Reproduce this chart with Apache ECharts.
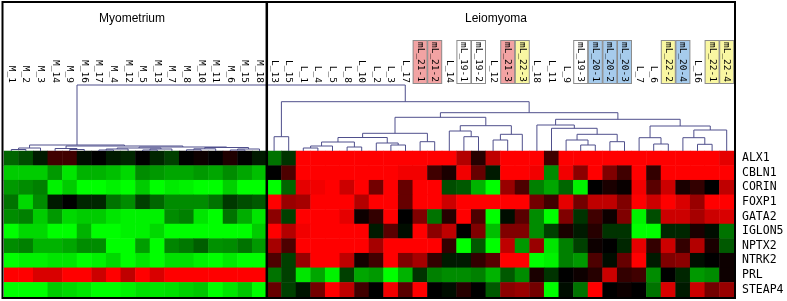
<!DOCTYPE html>
<html><head><meta charset="utf-8">
<script src="https://cdn.jsdelivr.net/npm/echarts@6/dist/echarts.min.js"></script>
<style>html,body{margin:0;padding:0;background:#fff}#c{width:787px;height:301px}</style>
</head><body><div id="c"></div>
<script>
// ---- categories ----
const samples = ['M_1','M_2','M_3','M_14','M_9','M_16','M_17','M_4','M_12','M_5','M_13','M_7','M_8','M_10','M_11','M_6','M_15','M_18',
 'L_13','L_15','L_1','L_4','L_5','L_8','L_10','L_2','L_3','L_17','mL_21-1','mL_21-2','L_14','mL_19-1','mL_19-2','L_12','mL_21-3','mL_22-3',
 'L_18','L_11','L_9','mL_19-3','mL_20-1','mL_20-2','mL_20-3','L_7','L_6','mL_22-2','mL_20-4','L_16','mL_22-1','mL_22-4'];
const genes = ['ALX1','CBLN1','CORIN','FOXP1','GATA2','IGLON5','NPTX2','NTRK2','PRL','STEAP4'];
const groupTitles = ['Myometrium','Leiomyoma'];

// ---- expression values (per gene, one value per sample; -1 green .. 0 black .. +1 red) ----
const ALX1 = [-0.4,-0.3,-0.1,0.25,0.25,-0.05,0,-0.1,-0.15,0,-0.15,-0.25,0,0.05,0,0.12,0,-0.1,
 -0.45,-0.2,1,1,1,1,1,1,1,1,1,1,1,0.7,0.15,0.75,1,1,1,0.25,1,1,1,1,1,1,1,1,1,1,1,0.9];
const CBLN1 = [-0.8,-0.8,-0.8,-0.6,-0.9,-0.7,-0.7,-0.75,-0.85,-0.55,-0.6,-0.65,-0.65,-0.6,-0.65,-0.55,-0.65,-0.75,
 0,0.3,1,1,1,1,1,1,1,0.95,0.95,0.25,0.1,0.95,0.4,-0.1,1,1,0.95,-0.55,0.95,0.55,1,0.5,0.25,1,0.2,1,1,1,1,1];
const CORIN = [-0.6,-0.55,-0.5,-0.95,-0.8,-1,-1,-0.95,-1,-0.8,-1,-0.92,-0.95,-1,-1,-0.82,-1,-1,
 -1,-0.4,0.9,0.95,1,0.8,1,0.45,1,0.4,1,1,-0.3,-0.35,-0.7,-1,0.6,0.3,-0.5,-0.65,-0.4,-0.95,0,0.1,0.03,0.95,0.35,0.8,0.1,0.2,0,0.75];
const FOXP1 = [-0.45,-0.85,-0.55,-0.1,0,-0.15,-0.15,-0.45,-0.55,-0.25,-0.4,-0.55,-0.55,-0.55,-0.45,-0.22,-0.3,-0.35,
 1,0.6,0.65,1,1,1,0.7,1,1,0.4,1,1,0.8,1,1,1,1,1,0.45,0.25,0.9,0.45,0.75,0.75,0.5,1,0.8,1,0.85,0.6,1,1];
const GATA2 = [-0.55,-0.5,-0.8,-0.6,-0.85,-0.8,-0.8,-0.9,-0.95,-0.95,-0.95,-0.55,-0.5,-0.9,-1,-0.45,-0.68,-0.9,
 0.55,-0.25,1,1,1,0.9,0.05,0.2,1,0,0.5,-0.45,0.15,1,0.3,-1,-0.05,0.35,-0.55,-1,0.5,-0.2,0.25,0.05,0.5,-0.95,-0.3,0.8,0.8,0.65,0.8,0.85];
const IGLON5 = [-1,-0.85,-0.85,-1,-1,-0.7,-1,-1,-0.95,-0.95,-0.85,-1,-1,-1,-1,-1,-1,-0.8,
 1,0.7,0.95,1,1,1,1,-0.1,0.35,-0.05,1,0.55,0.75,0,0.5,-0.75,0.5,0.5,-0.55,-0.25,0.1,-0.1,0.15,-0.2,-0.2,-1,-1,-0.15,-0.15,0.1,-0.05,-0.45];
const NPTX2 = [-0.55,-0.5,-0.7,-0.7,-0.65,-0.55,-0.55,-1,-1,-0.62,-1,-0.52,-0.47,-0.37,-0.57,-0.55,-0.45,-0.6,
 0.65,0.3,1,1,1,1,1,0.65,1,1,1,1,0.2,-1,-0.35,-1,0.75,-0.6,0.6,-0.9,-0.5,-0.25,0.05,0,-0.15,0.9,0.2,0.8,0.2,0.7,0.1,-0.35];
const NTRK2 = [-1,-0.95,-0.95,-0.9,-0.9,-1,-0.95,-0.85,-1,-0.9,-1,-0.88,-0.88,-0.95,-1,-0.92,-1,-1,
 0.3,-0.25,0.6,1,1,0.75,0.08,0.25,1,0.5,0.65,0.2,-0.1,-0.1,0.2,0.35,1,1,-1,-0.95,-0.5,-0.6,0.3,-0.05,0.4,1,-0.1,0.5,0.55,-0.05,0,0.05];
const PRL = [1,1,0.85,0.85,1,1,0.8,1,0.75,1,0.85,1,1,1,1,1,1,1,
 -0.45,-0.25,-0.9,-0.65,-0.95,-0.25,-0.65,-0.6,-1,-0.7,-0.2,-0.5,-0.55,-0.55,-0.5,-0.7,-0.35,-0.55,0.1,-0.2,0,0.05,0.15,0.8,0.2,0.25,-0.55,0,-0.15,-0.6,-0.55,0.05];
const STEAP4 = [-1,-1,-1,-0.8,-0.85,-0.9,-1,-1,-0.95,-0.88,-0.9,-0.88,-0.82,-0.78,-1,-0.9,-0.78,-1,
 0.4,-0.25,-0.08,0.45,1,0.75,0.25,0,0.95,0.35,1,0,-0.05,0.15,0,-0.35,0.55,0.6,0.45,-1,-0.05,-0.45,1,0,0.05,0,-0.45,0.85,-0.1,0.8,0.45,0.6];

// ---- dendrogram linkage (leaf index < 50, merged node = 50 + merge number) ----
const linkA = [0,50,4,3,6,54,9,56,55,12,59,15,61,60,58,53,51,
 18,20,68,23,69,26,25,71,28,74,31,30,33,79,78,76,39,38,41,84,37,36,44,43,47,46,92,90,88,82,67,66];
const linkB = [1,2,5,52,7,8,10,11,57,13,14,16,17,62,63,64,65,
 19,21,22,24,70,27,72,73,29,75,32,77,34,35,80,81,40,83,42,85,86,87,45,89,48,91,49,93,94,95,96,97];
const linkH = [1.5,3,1.5,2.5,1,2,1,2,3,1.2,2.2,1,2,3.5,4,5,6,
 14.3,3,5,4,9,6,8,13.5,9.3,17.7,14.3,20,11,16.7,25.3,33.7,6,11,9.3,16.7,22.7,26,7,13.3,6.7,13.3,21,25,31.7,38.3,49.3,66];

// ---- build library data ----
const exprRows = [ALX1, CBLN1, CORIN, FOXP1, GATA2, IGLON5, NPTX2, NTRK2, PRL, STEAP4];
const heatData = [];
exprRows.forEach((row, r) => row.forEach((v, c) => heatData.push([c, r, v])));

const N = samples.length;
const nodeX = [], nodeH = [];
for (let i = 0; i < N; i++) { nodeX[i] = i; nodeH[i] = 0; }
const dendData = [];
for (let k = 0; k < linkA.length; k++) {
  const a = linkA[k], b = linkB[k], h = linkH[k];
  dendData.push([nodeX[a], nodeH[a], nodeX[b], nodeH[b], h]);
  nodeX[N + k] = (nodeX[a] + nodeX[b]) / 2;
  nodeH[N + k] = h;
}

const labelFont = 'DejaVu Sans Mono';
function boxStyle(bg) {
  return { fontFamily: labelFont, fontSize: 9.5, color: '#000', backgroundColor: bg,
    borderColor: '#8c8c8c', borderWidth: 1, width: 40, height: 11, padding: [1, 1, 1, 1] };
}
function groupOf(name) {
  if (name.indexOf('mL_21') === 0) return 'p';
  if (name.indexOf('mL_22') === 0) return 'y';
  if (name.indexOf('mL_20') === 0) return 'b';
  if (name.indexOf('mL_19') === 0) return 'w';
  return 'n';
}

const chart = echarts.init(document.getElementById('c'), null, { renderer: 'canvas' });
const option = {
  animation: false,
  backgroundColor: '#fff',
  title: [
    { text: groupTitles[0], left: 127, top: 8, textAlign: 'center',
      textStyle: { fontFamily: 'Liberation Sans', fontSize: 12, fontWeight: 'normal', color: '#000' } },
    { text: groupTitles[1], left: 491, top: 8, textAlign: 'center',
      textStyle: { fontFamily: 'Liberation Sans', fontSize: 12, fontWeight: 'normal', color: '#000' } }
  ],
  grid: [
    { left: 4, right: 53, top: 151, height: 146, outerBoundsMode: 'none' },
    { left: 4, right: 53, top: 85, height: 66, outerBoundsMode: 'none' }
  ],
  xAxis: [
    { type: 'category', gridIndex: 0, data: samples, position: 'top',
      axisLine: { show: false }, axisTick: { show: false }, splitLine: { show: false },
      axisLabel: { interval: 0, rotate: 90, margin: 68, hideOverlap: false,
        formatter: v => '{' + groupOf(v) + '|' + v + '}',
        rich: {
          n: { fontFamily: labelFont, fontSize: 9.5, color: '#000' },
          p: boxStyle('#f2a3a3'),
          y: boxStyle('#f9f7a2'),
          b: boxStyle('#a6cbec'),
          w: boxStyle('#ffffff')
        } } },
    { type: 'value', gridIndex: 1, min: -0.5, max: 49.5, show: false }
  ],
  yAxis: [
    { type: 'category', gridIndex: 0, data: genes, inverse: true, position: 'right',
      axisLine: { show: false }, axisTick: { show: false }, splitLine: { show: false },
      axisLabel: { interval: 0, hideOverlap: false, margin: 8, fontFamily: labelFont, fontSize: 11.5, color: '#000' } },
    { type: 'value', gridIndex: 1, min: 0, max: 66, show: false }
  ],
  visualMap: { show: false, type: 'continuous', min: -1, max: 1, dimension: 2, seriesIndex: 0,
    inRange: { color: ['#00ff00', '#000000', '#ff0000'] } },
  series: [
    { type: 'heatmap', xAxisIndex: 0, yAxisIndex: 0, data: heatData,
      itemStyle: { borderWidth: 0 }, emphasis: { disabled: true }, progressive: 0 },
    { type: 'custom', xAxisIndex: 1, yAxisIndex: 1, data: dendData, clip: false, silent: true,
      encode: { x: [0, 2], y: [1, 3, 4] },
      renderItem: function (params, api) {
        const p1 = api.coord([api.value(0), api.value(1)]);
        const p2 = api.coord([api.value(0), api.value(4)]);
        const p3 = api.coord([api.value(2), api.value(4)]);
        const p4 = api.coord([api.value(2), api.value(3)]);
        return { type: 'polyline', shape: { points: [p1, p2, p3, p4] },
          style: { stroke: '#4f4f8c', lineWidth: 1, fill: null } };
      } }
  ],
  graphic: [
    { type: 'rect', z: 100, shape: { x: 2.5, y: 2, width: 732.5, height: 296 },
      style: { fill: null, stroke: '#000', lineWidth: 2 } },
    { type: 'line', z: 100, shape: { x1: 266.8, y1: 2, x2: 266.8, y2: 298 },
      style: { stroke: '#000', lineWidth: 2.5 } }
  ]
};
chart.setOption(option);
</script>
</body></html>
